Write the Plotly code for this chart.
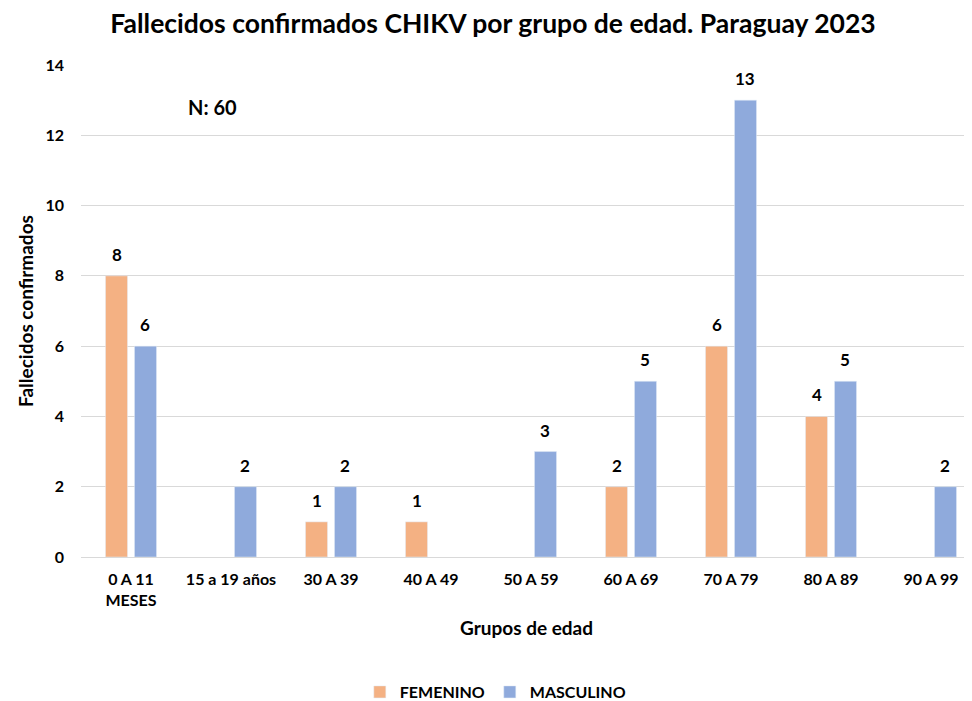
import plotly.graph_objects as go

# Data
grupos = ["0 A 11<br>MESES", "15 a 19 años", "30 A 39", "40 A 49", "50 A 59",
          "60 A 69", "70 A 79", "80 A 89", "90 A 99"]
femenino = [8, None, 1, 1, None, 2, 6, 4, None]
masculino = [6, 2, 2, None, 3, 5, 13, 5, 2]

FONT = "Lato, Open Sans, sans-serif"
C_FEM = "#F4B183"
C_MAS = "#8FAADC"

# page body has an 8px margin, so the figure is laid out 8px smaller
W, H = 964, 693
L, T, B = 73, 57, 144
PW, PH = W - L, H - T - B

fig = go.Figure()
fig.add_trace(go.Bar(x=grupos, y=femenino, name="<b>FEMENINO</b>", marker_color=C_FEM))
fig.add_trace(go.Bar(x=grupos, y=masculino, name="<b>MASCULINO</b>", marker_color=C_MAS))

# value labels above the bars
annots = []
for serie, shift in ((femenino, -14), (masculino, 14)):
    for g, v in zip(grupos, serie):
        if v is None:
            continue
        annots.append(dict(x=g, y=v, xref="x", yref="y", text="<b>%d</b>" % v,
                           showarrow=False, xshift=shift, yshift=9, yanchor="bottom",
                           font=dict(family=FONT, size=17, color="#000000")))

annots.append(dict(text="<b>N: 60</b>", x=(178 - L) / PW, xref="paper", y=12.8, yref="y",
                   showarrow=False, font=dict(family=FONT, size=20)))
annots.append(dict(text="<b>Grupos de edad</b>", x=0.5, xref="paper", xanchor="center",
                   y=-(619 - (T + PH)) / PH, yref="paper", yanchor="middle",
                   showarrow=False, font=dict(family=FONT, size=19)))
annots.append(dict(text="<b>Fallecidos confirmados</b>", x=-(L - 17) / PW, xref="paper",
                   xanchor="center", y=0.5, yref="paper", yanchor="middle", textangle=-90,
                   showarrow=False, font=dict(family=FONT, size=19)))

fig.update_layout(
    width=W, height=H,
    paper_bgcolor="white", plot_bgcolor="white",
    font=dict(family=FONT, size=16, color="#000000"),
    margin=dict(l=L, r=0, t=T, b=B, autoexpand=False),
    barmode="group", bargap=0.42, bargroupgap=0.24,
    title=dict(text="<b>Fallecidos confirmados CHIKV por grupo de edad. Paraguay 2023</b>",
               x=485 / W, xref="container", xanchor="center",
               y=1 - 16 / H, yref="container", yanchor="middle",
               font=dict(family=FONT, size=26.5, color="#000000")),
    legend=dict(orientation="h", x=0.465, xanchor="center", y=-(684 - (T + PH)) / PH,
                yanchor="middle", font=dict(family=FONT, size=16), traceorder="normal"),
    annotations=annots,
)

fig.update_xaxes(
    type="category", range=[-0.5, 8.41], automargin=False,
    tickfont=dict(size=16), showline=True, linecolor="#D9D9D9", linewidth=1,
    ticks="", tickprefix="<b>", ticksuffix="</b>", ticklabelstandoff=8,
)
fig.update_yaxes(
    range=[0, 14], dtick=2, tickfont=dict(size=16), automargin=False,
    showgrid=True, gridcolor="#D9D9D9", gridwidth=1, zeroline=False,
    tickprefix="<b>", ticksuffix="</b>", ticklabelstandoff=16,
)

fig.write_html("out.html")
